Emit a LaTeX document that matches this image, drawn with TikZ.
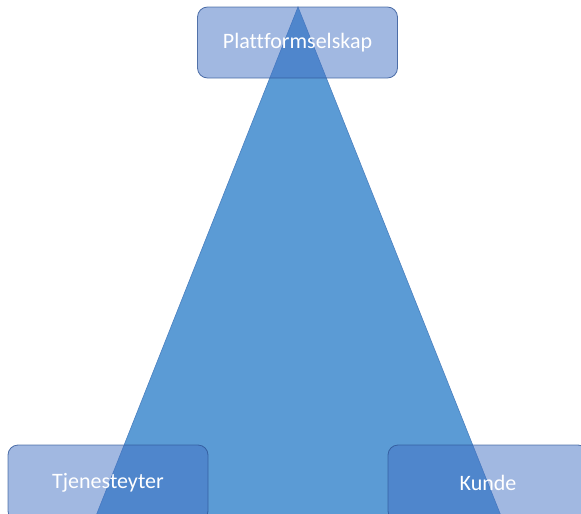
\documentclass[tikz,border=0pt]{standalone}
\usepackage{fontspec}
\setmainfont{Carlito}[Ligatures=NoCommon]
\definecolor{tri}{HTML}{5B9BD5}
\definecolor{triedge}{HTML}{4A80C0}
\definecolor{boxfill}{HTML}{4472C4}
\definecolor{boxedge}{HTML}{2F5597}
\begin{document}
\begin{tikzpicture}[x=1pt,y=-1pt,
  rolebox/.style={draw=boxedge, line width=0.8pt, fill=boxfill, fill opacity=0.5, draw opacity=0.8,
    text opacity=1, rounded corners=10pt, minimum width=200pt, minimum height=73pt,
    inner sep=0pt, text=white, font=\fontsize{22}{26}\selectfont, anchor=center},
  tristyle/.style={fill=tri, draw=triedge, line width=0.6pt}]
\useasboundingbox (0,0) rectangle (581,514);
\clip (0,0) rectangle (581,514);
\coordinate (apex) at (298,7);
\coordinate (bl) at (88,536);
\coordinate (br) at (509,536);
\fill[white] (0,0) rectangle (581,514);
\draw[tristyle] (apex) -- (bl) -- (br) -- cycle;
\node[rolebox, minimum height=71pt] (plat) at (297.5,42.5) {Plattformselskap};
\node[rolebox, minimum height=76pt] (tjen) at (108,483) {Tjenesteyter};
\node[rolebox, minimum height=76pt] (kunde) at (488,483) {Kunde};
\end{tikzpicture}
\end{document}
